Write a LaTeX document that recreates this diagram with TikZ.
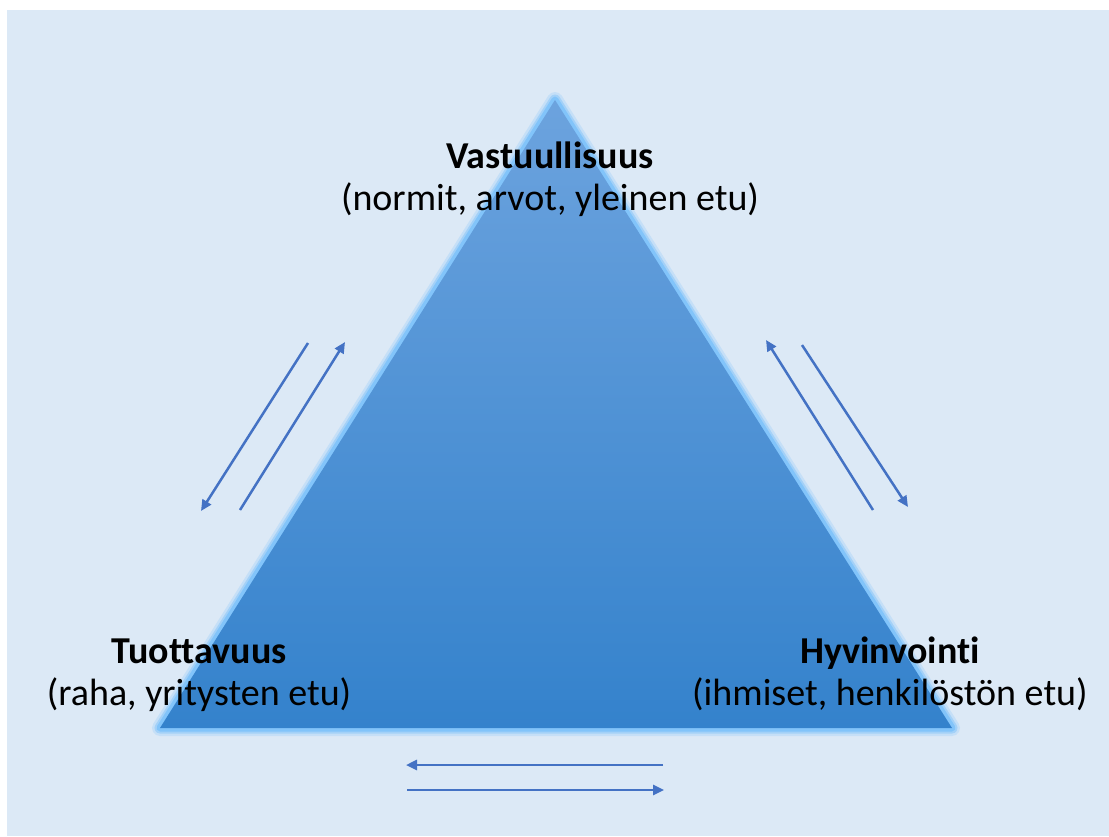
\documentclass[tikz,border=0pt]{standalone}
\usepackage{fontspec}
\setmainfont[Ligatures=NoCommon]{Carlito}
\usetikzlibrary{arrows.meta}

\definecolor{bgblue}{RGB}{220,233,246}
\definecolor{glowblue}{RGB}{130,196,250}
\definecolor{toptri}{RGB}{108,163,222}
\definecolor{bottri}{RGB}{52,130,204}
\definecolor{arrowblue}{RGB}{68,114,196}

\tikzset{title/.style={font=\fontsize{38}{44}\selectfont\bfseries, anchor=base, inner sep=0pt},
    subtitle/.style={font=\fontsize{38}{44}\selectfont, anchor=base, inner sep=0pt},
    flow/.style={draw=arrowblue, line width=2.5pt, -{Triangle[length=11pt, width=10pt]}},
    }

\begin{document}
\begin{tikzpicture}[x=1pt, y=-1pt]
\useasboundingbox (0,0) rectangle (1109,836);
\fill[white] (0,0) rectangle (1109,836);
\fill[bgblue] (7,10) rectangle (1109,836);

% triangle corners
\coordinate (apex) at (555,100);
\coordinate (left) at (160,728);
\coordinate (right) at (952,728);

% glow
\draw[glowblue, line width=16pt, opacity=0.25, line join=round] (apex) -- (left) -- (right) -- cycle;
\draw[glowblue, line width=11pt, opacity=0.5, line join=round] (apex) -- (left) -- (right) -- cycle;
\draw[glowblue, line width=7pt, line join=round] (apex) -- (left) -- (right) -- cycle;
\shade[top color=toptri, bottom color=bottri] (apex) -- (left) -- (right) -- cycle;

% labels
\node[title] (vastuu) at (550,168) {Vastuullisuus};
\node[subtitle] (vastuuSub) at (550,210) {(normit, arvot, yleinen etu)};
\node[title] (tuotto) at (199,663) {Tuottavuus};
\node[subtitle] (tuottoSub) at (199,705) {(raha, yritysten etu)};
\node[title] (hyvin) at (890,663) {Hyvinvointi};
\node[subtitle] (hyvinSub) at (890,705) {(ihmiset, henkilöstön etu)};

% arrow ends
\coordinate (l1s) at (308,343);
\coordinate (l1e) at (201,511);
\coordinate (l2s) at (240,510);
\coordinate (l2e) at (345,342);
\coordinate (r1s) at (873,510);
\coordinate (r1e) at (766,340);
\coordinate (r2s) at (802,345);
\coordinate (r2e) at (908,507);
\coordinate (b1s) at (663,765);
\coordinate (b1e) at (406,765);
\coordinate (b2s) at (407,790);
\coordinate (b2e) at (664,790);

\draw[flow] (l1s) -- (l1e);
\draw[flow] (l2s) -- (l2e);
\draw[flow] (r1s) -- (r1e);
\draw[flow] (r2s) -- (r2e);
\draw[flow] (b1s) -- (b1e);
\draw[flow] (b2s) -- (b2e);
\end{tikzpicture}
\end{document}
